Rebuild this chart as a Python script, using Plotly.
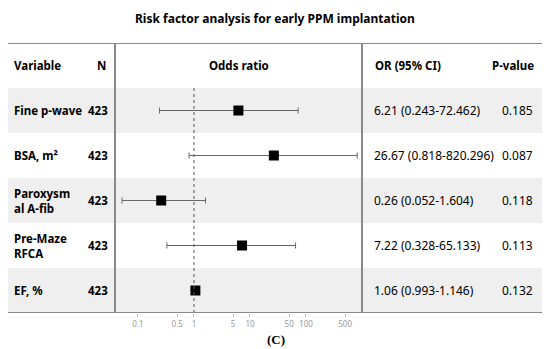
import plotly.graph_objects as go

variables = ["Fine p-wave", "BSA, m²", "Paroxysm<br>al A-fib", "Pre-Maze<br>RFCA", "EF, %"]
n_values = [423, 423, 423, 423, 423]
odds = [6.21, 26.67, 0.26, 7.22, 1.06]
ci_low = [0.243, 0.818, 0.052, 0.328, 0.993]
ci_high = [72.462, 820.296, 1.604, 65.133, 1.146]
ci_text = ["6.21 (0.243-72.462)", "26.67 (0.818-820.296)", "0.26 (0.052-1.604)",
           "7.22 (0.328-65.133)", "1.06 (0.993-1.146)"]
p_values = ["0.185", "0.087", "0.118", "0.113", "0.132"]
tick_vals = [0.1, 0.5, 1, 5, 10, 50, 100, 500]
tick_text = ["0.1", "0.5", "1", "5", "10", "50", "100", "500"]

OFF = 8  # page body margin
W, H = 550 - OFF, 349 - OFF
FONT = "Noto Sans"
def px(x):
    return (x - OFF) / W
def py(y):
    return 1 - (y - OFF) / H

rows = list(range(len(variables)))

fig = go.Figure()
fig.add_trace(go.Scatter(
    x=odds, y=rows, mode="markers",
    marker=dict(symbol="square", size=10, color="black"),
    error_x=dict(type="data", symmetric=False,
                 array=[h - o for h, o in zip(ci_high, odds)],
                 arrayminus=[o - l for o, l in zip(odds, ci_low)],
                 color="#666666", thickness=1, width=3),
    showlegend=False, hoverinfo="skip"))

shapes = []
for i in rows:
    shapes.append(dict(type="rect", xref="paper", yref="y", x0=px(4), x1=px(543),
                       y0=i - 0.5, y1=i + 0.5, line=dict(width=0),
                       fillcolor="#efefef" if i % 2 == 0 else "white", layer="below"))
shapes.append(dict(type="line", xref="x", yref="y", x0=1, x1=1, y0=-0.5, y1=4.5,
                   line=dict(color="#555555", width=1, dash="dot")))
border = dict(color="#8a8a8a", width=2)
shapes.append(dict(type="rect", xref="paper", yref="y", x0=px(4), x1=px(543),
                   y0=-1.5, y1=4.5, line=border))
for xv in (115, 362):
    shapes.append(dict(type="line", xref="paper", yref="y", x0=px(xv), x1=px(xv),
                       y0=-1.5, y1=4.5, line=border))

ann = []
def add(text, x, y, xanchor="left", yref="y", size=11.5, bold=True, color="black",
        family=FONT, yanchor="middle"):
    ann.append(dict(text=f"<b>{text}</b>" if bold else text, x=x, y=y, xref="paper", yref=yref,
                    xanchor=xanchor, yanchor=yanchor, showarrow=False, align="left",
                    font=dict(family=family, size=size, color=color)))

add("Risk factor analysis for early PPM implantation", px(275), 1.0, xanchor="center",
    yref="paper", size=12, yanchor="top")
add("Variable", px(12), -1)
add("N", px(108), -1, xanchor="right")
add("Odds ratio", px(238.5), -1, xanchor="center")
add("OR (95% CI)", px(373), -1)
add("P-value", px(536), -1, xanchor="right")
for i in rows:
    add(variables[i], px(12), i)
    add(str(n_values[i]), px(110), i, xanchor="right")
    add(ci_text[i], px(372), i, bold=False, size=12)
    add(p_values[i], px(535), i, xanchor="right", bold=False, size=12)
add("(C)", px(276), py(339), xanchor="center", yref="paper", size=13, family="Liberation Serif")

fig.update_layout(
    width=W, height=H, margin=dict(l=0, r=0, t=0, b=0),
    paper_bgcolor="white", plot_bgcolor="rgba(0,0,0,0)",
    shapes=shapes, annotations=ann,
    xaxis=dict(type="log", domain=[px(115), px(362)], range=[-1.41, 3.0],
               tickvals=tick_vals, ticktext=tick_text, showgrid=False, zeroline=False,
               ticks="outside", ticklen=3, tickcolor="#bbbbbb",
               tickfont=dict(family=FONT, size=8, color="#999999"), showline=False),
    yaxis=dict(domain=[py(313), py(43)], range=[4.5, -1.5], showgrid=False,
               zeroline=False, showticklabels=False, showline=False),
)
fig.write_html("out.html")
